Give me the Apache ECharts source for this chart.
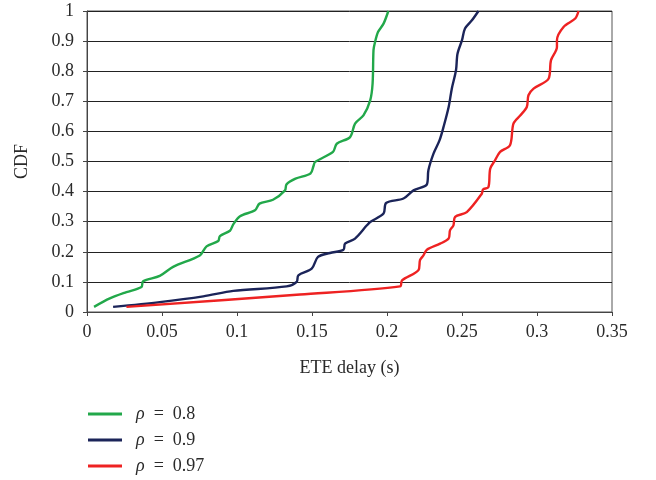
<!DOCTYPE html>
<html>
<head>
<meta charset="utf-8">
<script src="https://cdn.jsdelivr.net/npm/echarts@6/dist/echarts.min.js"></script>
<style>
  html, body { margin: 0; padding: 0; background: #fff; }
  #cdf { width: 656px; height: 480px; }
</style>
</head>
<body>
<div id="cdf"></div>
<script>
  // rho = 0.8
  var delay08 = [0.0047, 0.0152, 0.0263, 0.0363, 0.0374, 0.0485, 0.0574, 0.0752, 0.0797, 0.0875, 0.0886, 0.0953, 0.0975, 0.102, 0.112, 0.115, 0.124, 0.132, 0.133, 0.139, 0.149, 0.151, 0.152, 0.164, 0.1665, 0.1754, 0.1787, 0.1843, 0.1888, 0.1904, 0.191, 0.1918, 0.194, 0.1977, 0.2009];
  var cdf08 = [0.017, 0.045, 0.066, 0.083, 0.102, 0.12, 0.15, 0.188, 0.218, 0.236, 0.252, 0.27, 0.291, 0.318, 0.338, 0.36, 0.373, 0.404, 0.424, 0.443, 0.46, 0.485, 0.498, 0.532, 0.559, 0.581, 0.626, 0.653, 0.703, 0.759, 0.87, 0.892, 0.93, 0.958, 1.0];
  // rho = 0.9
  var delay09 = [0.0174, 0.0485, 0.0775, 0.0975, 0.1331, 0.1398, 0.1409, 0.1498, 0.154, 0.162, 0.171, 0.172, 0.1787, 0.1866, 0.1888, 0.1977, 0.1994, 0.211, 0.2177, 0.2266, 0.2276, 0.231, 0.235, 0.2377, 0.2411, 0.2432, 0.246, 0.247, 0.25, 0.252, 0.2566, 0.261];
  var cdf09 = [0.017, 0.033, 0.052, 0.07, 0.085, 0.1, 0.122, 0.144, 0.183, 0.196, 0.207, 0.227, 0.244, 0.288, 0.299, 0.327, 0.362, 0.377, 0.404, 0.424, 0.471, 0.526, 0.57, 0.615, 0.681, 0.742, 0.803, 0.858, 0.903, 0.942, 0.969, 1.0];
  // rho = 0.97
  var delay097 = [0.0263, 0.142, 0.2087, 0.21, 0.221, 0.222, 0.2243, 0.2266, 0.2354, 0.2411, 0.242, 0.2443, 0.2454, 0.2532, 0.2632, 0.264, 0.2676, 0.2688, 0.272, 0.2754, 0.282, 0.2843, 0.2888, 0.2932, 0.2943, 0.2977, 0.3077, 0.3093, 0.3133, 0.3133, 0.3177, 0.3255, 0.3277];
  var cdf097 = [0.017, 0.058, 0.085, 0.105, 0.139, 0.172, 0.188, 0.207, 0.227, 0.244, 0.271, 0.288, 0.316, 0.332, 0.393, 0.407, 0.415, 0.476, 0.504, 0.532, 0.554, 0.626, 0.653, 0.681, 0.72, 0.742, 0.775, 0.836, 0.88, 0.903, 0.947, 0.975, 1.0];

  var names = ['ρ = 0.8', 'ρ = 0.9', 'ρ = 0.97'];
  var colors = ['#22a84a', '#1b2459', '#ee2222'];

  function pairs(xs, ys) {
    return xs.map(function (x, i) { return [x, ys[i]]; });
  }

  var serif = '"Liberation Serif", "DejaVu Serif", serif';
  var myChart = echarts.init(document.getElementById('cdf'));

  myChart.setOption({
    animation: false,
    color: colors,
    textStyle: { fontFamily: serif },
    grid: {
      left: 87,
      right: 44,
      top: 11,
      bottom: 168,
      show: true,
      borderColor: '#555',
      borderWidth: 1
    },
    legend: {
      orient: 'vertical',
      left: 88,
      top: 405,
      height: 90,
      padding: 0,
      icon: 'rect',
      itemWidth: 34,
      itemHeight: 3,
      itemGap: 8,
      data: names,
      // italic rho, wider spacing round the equals sign
      formatter: function (name) {
        return '{i|ρ}' + name.slice(1).replace(/ /g, '\u2002');
      },
      textStyle: {
        fontFamily: serif,
        fontSize: 18,
        lineHeight: 18,
        color: '#2a2a2a',
        padding: [0, 0, 0, 9],
        rich: {
          i: { fontFamily: serif, fontSize: 18, lineHeight: 18, fontStyle: 'italic', color: '#2a2a2a' }
        }
      }
    },
    xAxis: {
      type: 'value',
      min: 0,
      max: 0.35,
      interval: 0.05,
      name: 'ETE delay (s)',
      nameLocation: 'middle',
      nameGap: 47,
      nameTextStyle: { fontFamily: serif, fontSize: 18, color: '#2a2a2a' },
      axisLine: { show: true, lineStyle: { color: '#444', width: 1 } },
      axisTick: { show: true, length: 4, inside: false, lineStyle: { color: '#444' } },
      axisLabel: {
        fontFamily: serif, fontSize: 18, color: '#2a2a2a', margin: 11,
        formatter: function (v) { return String(+v.toFixed(2)); }
      },
      splitLine: { show: false }
    },
    yAxis: {
      type: 'value',
      min: 0,
      max: 1,
      interval: 0.1,
      name: 'CDF',
      nameLocation: 'middle',
      nameGap: 56,
      nameTextStyle: { fontFamily: serif, fontSize: 18, color: '#2a2a2a' },
      axisLine: { show: true, lineStyle: { color: '#444', width: 1 } },
      axisTick: { show: true, length: 4, lineStyle: { color: '#444' } },
      axisLabel: {
        fontFamily: serif, fontSize: 18, color: '#2a2a2a', margin: 13,
        formatter: function (v) { return String(+v.toFixed(1)); }
      },
      splitLine: { show: true, lineStyle: { color: '#222', width: 1 } }
    },
    series: [{
      name: names[0],
      type: 'line',
      smooth: 0.3,
      showSymbol: false,
      lineStyle: { width: 2.4 },
      data: pairs(delay08, cdf08)
    }, {
      name: names[1],
      type: 'line',
      smooth: 0.3,
      showSymbol: false,
      lineStyle: { width: 2.4 },
      data: pairs(delay09, cdf09)
    }, {
      name: names[2],
      type: 'line',
      smooth: 0.3,
      showSymbol: false,
      lineStyle: { width: 2.4 },
      data: pairs(delay097, cdf097)
    }]
  });
</script>
</body>
</html>
